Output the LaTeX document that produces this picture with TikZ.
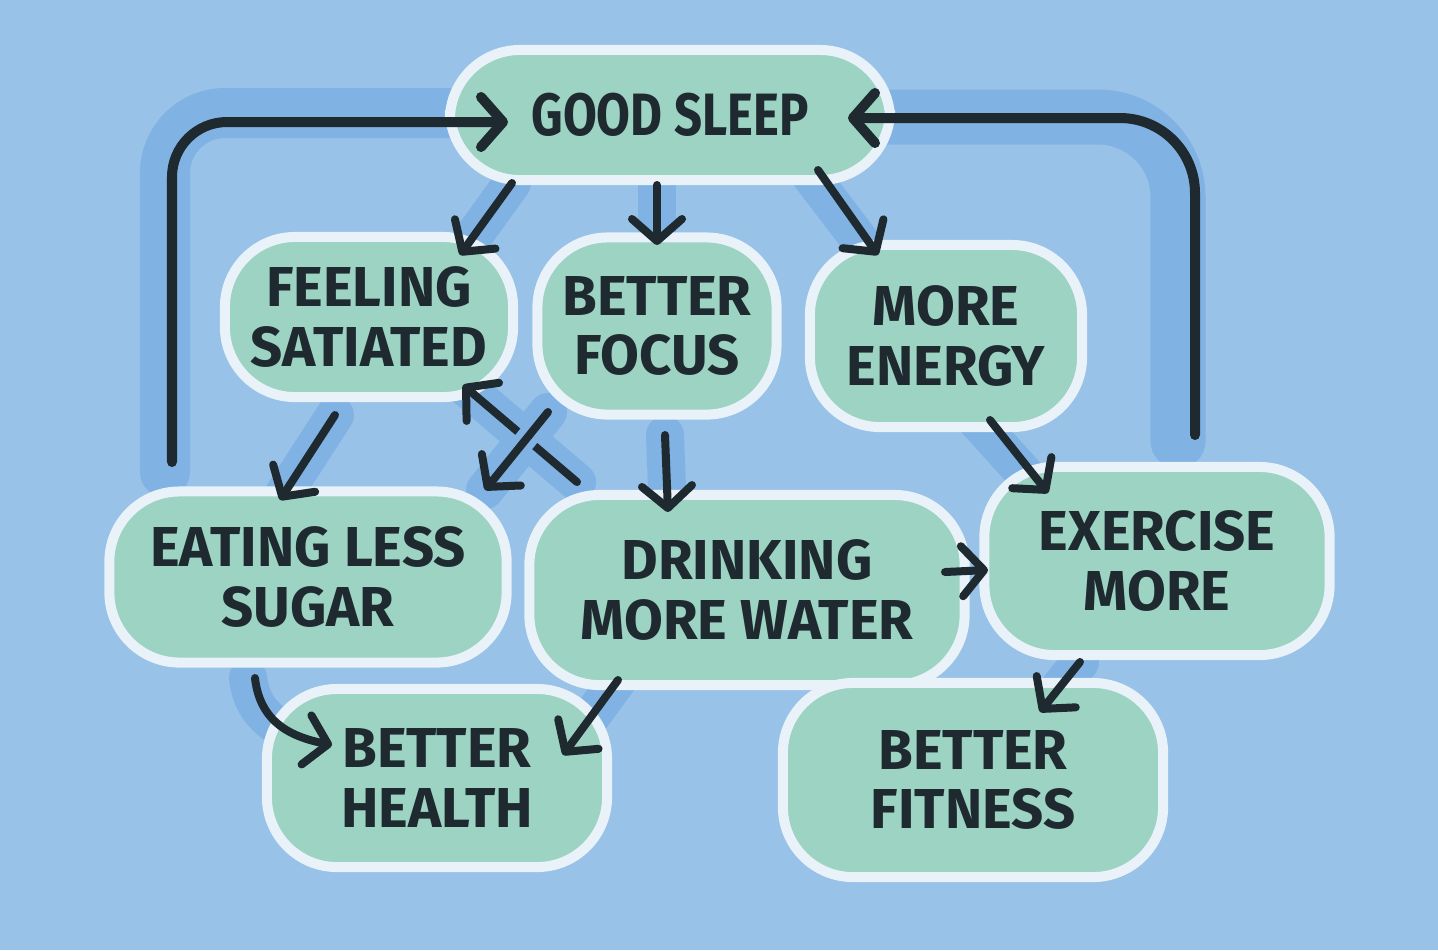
\documentclass[tikz,border=0pt]{standalone}
\usepackage{fontspec}
\newfontfamily\hand{Fira Sans}
\newfontfamily\handc{Fira Sans}[FakeStretch=0.82]
\usetikzlibrary{arrows.meta,calc}
\definecolor{bgblue}{HTML}{98C2E8}
\definecolor{shadowblue}{HTML}{80B3E3}
\definecolor{mint}{HTML}{9CD3C3}
\definecolor{rim}{HTML}{E9F1F9}
\definecolor{ink}{HTML}{1F2A30}
\pgfdeclarelayer{bg}
\pgfsetlayers{bg,main}
\tikzset{
  box/.style={draw=rim, fill=mint, line width=0.1cm, rounded corners=0.7cm,
    inner sep=0pt, align=center, text=ink,
    font=\hand\bfseries\fontsize{16}{17}\selectfont},
  arr/.style={draw=ink, line width=0.08cm, line cap=round, line join=round,
    -{Straight Barb[length=0.22cm,width=0.5cm,round]}},
  loop/.style={arr, line width=0.1cm},
  shade/.style={draw=shadowblue, line width=0.38cm, line cap=round, line join=round},
}
\begin{document}
\begin{tikzpicture}[x=0.01cm,y=-0.01cm]
\useasboundingbox (0,0) rectangle (1438,950);

% nodes
\node[box, minimum width=4.4cm, minimum height=1.3cm,
      font=\handc\bfseries\fontsize{17}{17}\selectfont] (gs) at (670,115) {GOOD SLEEP};
\node[box, minimum width=2.88cm, minimum height=1.6cm] (fs) at (369,317) {FEELING\\SATIATED};
\node[box, minimum width=2.39cm, minimum height=1.77cm] (bf) at (657,326) {BETTER\\FOCUS};
\node[box, minimum width=2.72cm, minimum height=1.82cm] (me) at (946,336) {MORE\\ENERGY};
\node[box, minimum width=3.97cm, minimum height=1.71cm] (els) at (308,577) {EATING LESS\\SUGAR};
\node[box, minimum width=4.35cm, minimum height=1.9cm] (dmw) at (747,590) {DRINKING\\MORE WATER};
\node[box, minimum width=3.45cm, minimum height=1.88cm] (em) at (1157,561) {EXERCISE\\MORE};
\node[box, minimum width=3.4cm, minimum height=1.78cm] (bh) at (437,778) {BETTER\\HEALTH};
\node[box, minimum width=3.8cm, minimum height=1.94cm] (bfit) at (973,780) {BETTER\\FITNESS};

% background and shadows
\begin{pgfonlayer}{bg}
\fill[bgblue] (0,0) rectangle (1438,950);
\draw[shade, line width=0.5cm, rounded corners=0.6cm]
  ($(els)+(-143,-105)$) |- ($(gs)+(-100,-2)$);
\draw[shade, line width=0.55cm, rounded corners=0.8cm]
  ($(em)+(21,-120)$) |- ($(gs)+(120,2)$);
\draw[shade] ($(gs)+(-158,68)$) -- ($(fs)+(91,-62)$);
\draw[shade] ($(gs)+(-13,70)$) -- ($(bf)+(0,-81)$);
\draw[shade] ($(gs)+(140,60)$) -- ($(me)+(-75,-81)$);
\draw[shade] ($(fs)+(-34,98)$) -- ($(els)+(-28,-77)$);
\draw[shade] ($(bf)+(-109,86)$) -- ($(els)+(177,-87)$);
\draw[shade] ($(dmw)+(-170,-108)$) -- ($(fs)+(94,68)$);
\draw[shade] ($(bf)+(8,109)$) -- ($(dmw)+(-79,-78)$);
\draw[shade] ($(me)+(30,84)$) -- ($(em)+(-115,-68)$);
\draw[shade] ($(els)+(-60,101)$) .. controls +(5,45) and +(-40,-8) .. ($(bh)+(-105,-33)$);
\draw[shade] ($(dmw)+(-129,90)$) -- ($(bh)+(126,-23)$);
\draw[shade] ($(em)+(-77,101)$) -- ($(bfit)+(67,-68)$);
\end{pgfonlayer}

% connectors
\draw[loop, rounded corners=0.55cm] ($(els)+(-136,-115)$) |- ($(gs)+(-162,7)$);
\draw[loop, rounded corners=0.75cm] ($(em)+(38,-126)$) |- ($(gs)+(178,3)$);
\draw[arr] ($(gs)+(-158,68)$) -- ($(fs)+(91,-62)$);
\draw[arr] ($(gs)+(-13,70)$) -- ($(bf)+(0,-81)$);
\draw[arr] ($(gs)+(148,55)$) -- ($(me)+(-68,-81)$);
\draw[arr] ($(fs)+(-34,98)$) -- ($(els)+(-28,-77)$);
\draw[arr] ($(dmw)+(-170,-108)$) -- ($(fs)+(94,68)$);
\draw[arr, preaction={draw=shadowblue, line width=0.22cm, -, shorten <=0.25cm, shorten >=0.3cm}]
  ($(bf)+(-109,86)$) -- ($(els)+(177,-87)$);
\draw[arr] ($(bf)+(8,109)$) -- ($(dmw)+(-79,-78)$);
\draw[arr] ($(dmw)+(198,-18)$) -- ($(em)+(-169,9)$);
\draw[arr] ($(me)+(44,84)$) -- ($(em)+(-109,-68)$);
\draw[arr] ($(els)+(-53,101)$) .. controls +(5,45) and +(-40,-8) .. ($(bh)+(-105,-33)$);
\draw[arr] ($(dmw)+(-129,90)$) -- ($(bh)+(126,-23)$);
\draw[arr] ($(em)+(-77,101)$) -- ($(bfit)+(67,-68)$);
\end{tikzpicture}
\end{document}
